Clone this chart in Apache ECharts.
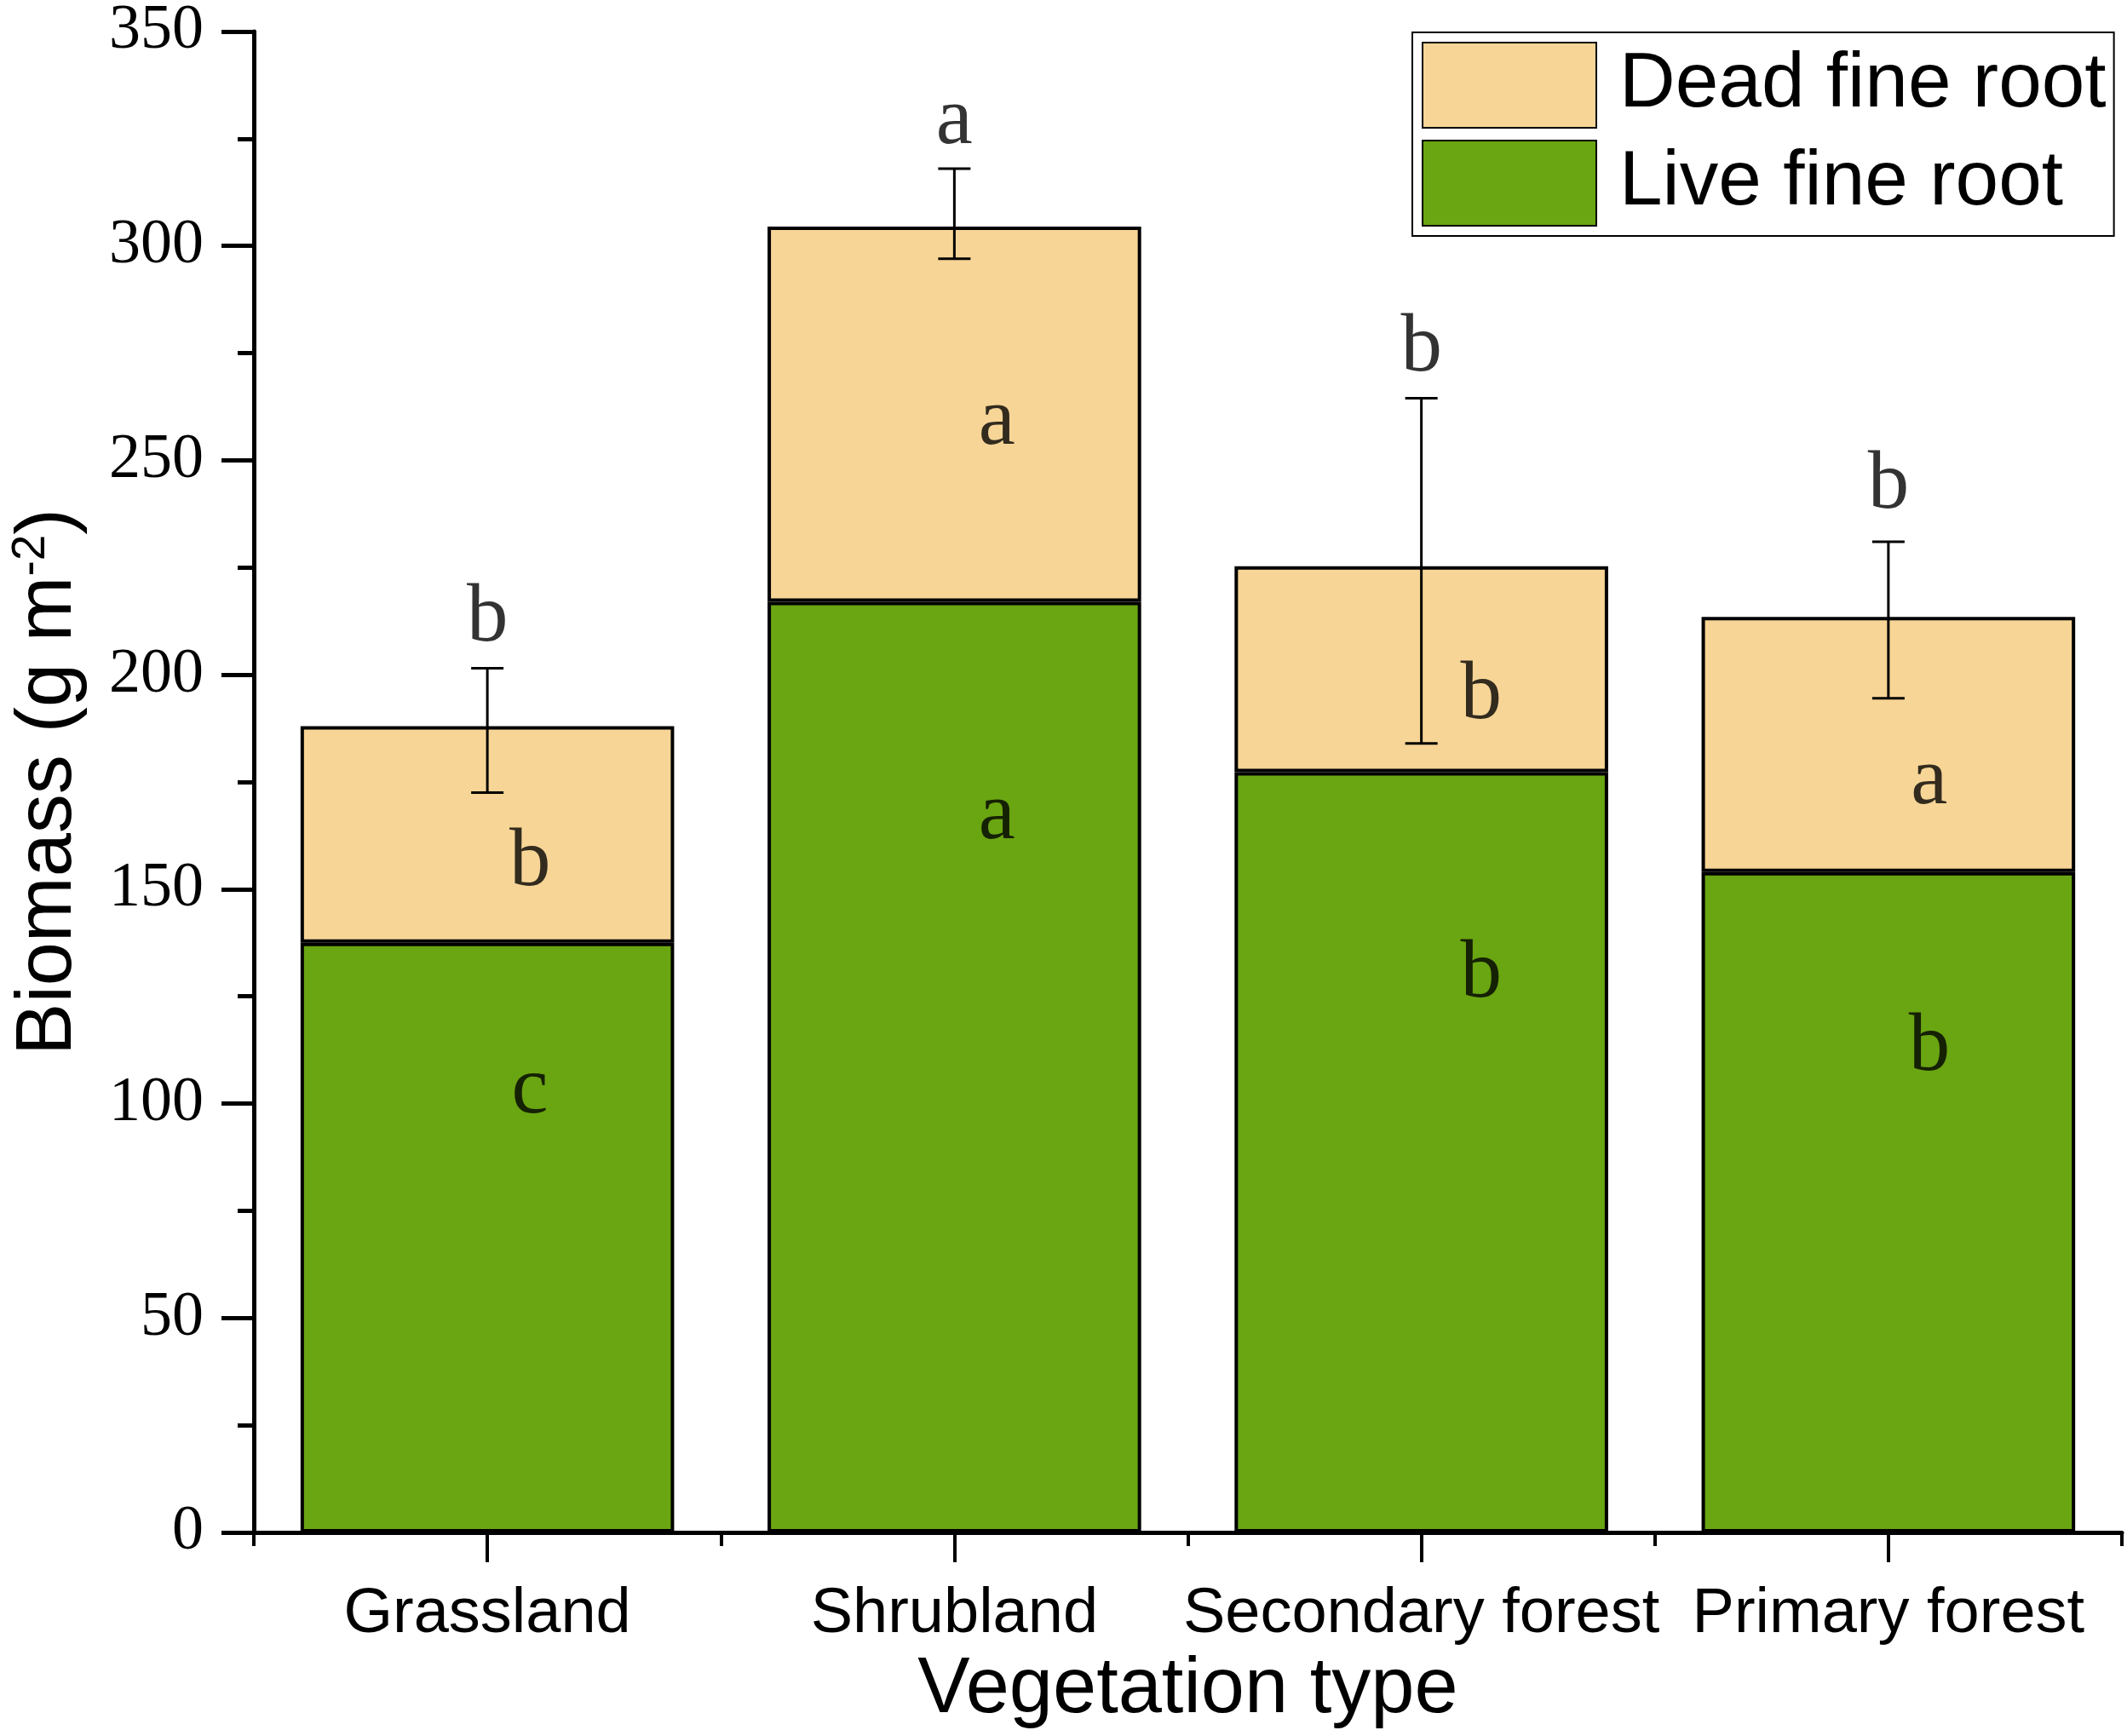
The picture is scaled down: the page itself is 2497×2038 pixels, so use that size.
<!DOCTYPE html>
<html>
<head>
<meta charset="utf-8">
<script src="https://cdn.jsdelivr.net/npm/echarts@6/dist/echarts.min.js"></script>
<style>
  html, body { margin: 0; padding: 0; background: #fff; }
  #main { width: 2497px; height: 2038px; }
</style>
</head>
<body>
<div id="main"></div>
<script>
// categories and values
var categories = ['Grassland', 'Shrubland', 'Secondary forest', 'Primary forest'];
var liveRoot = [137.5, 217, 177.3, 154];
var deadRoot = [50.5, 87.5, 48, 59.5];
var errLow = [172.5, 297, 184, 194.5];
var errHigh = [201.5, 318, 264.5, 231];
var topLetters = ['b', 'a', 'b', 'b'];
var deadLetters = ['b', 'a', 'b', 'a'];
var liveLetters = ['c', 'a', 'b', 'b'];
var topLetterY = [213, 329, 276, 244];
var deadLetterY = [156, 259, 195, 175];
var liveLetterY = [103, 167, 130, 113];
var yTicks = [0, 350, 50]; // min, max, interval

var SERIF = '"Liberation Serif", "Times New Roman", serif';
var SANS = '"Liberation Sans", Arial, sans-serif';

// horizontal nudge of the in-bar letters (px)
var letterNudge = [50, 50, 70, 48];

function letterSeries(ys, letters, nudge) {
    return {
        type: 'scatter',
        data: ys.map(function (y, i) {
            return { value: [i, y], name: letters[i], label: { offset: [nudge ? nudge[i] : 0, 0] } };
        }),
        symbolSize: 0,
        silent: true,
        z: 10,
        label: {
            show: true,
            position: 'inside',
            formatter: function (p) { return p.name; },
            fontFamily: SERIF,
            fontSize: 97,
            color: '#000'
        }
    };
}

var chart = echarts.init(document.getElementById('main'));
chart.setOption({
    backgroundColor: '#fff',
    animation: false,
    grid: { left: 298, right: 6, top: 29, bottom: 239, containLabel: false },
    legend: {
        left: 1658,
        top: 38,
        orient: 'vertical',
        data: ['Dead fine root', 'Live fine root'],
        itemWidth: 204,
        itemHeight: 100,
        itemGap: 13,
        padding: [11, 9, 11, 11],
        borderColor: '#000',
        borderWidth: 2,
        icon: 'rect',
        textStyle: { fontFamily: SANS, fontSize: 91, color: '#000', padding: [0, 0, 0, 22] }
    },
    xAxis: [{
        type: 'category',
        data: categories,
        axisLine: { lineStyle: { color: '#000', width: 5 } },
        axisTick: { show: true, alignWithLabel: true, interval: 0, length: 35, lineStyle: { width: 4, color: '#000' } },
        axisLabel: { interval: 0, fontFamily: SANS, fontSize: 74, color: '#000', margin: 60 },
        name: 'Vegetation type',
        nameLocation: 'middle',
        nameGap: 140,
        nameTextStyle: { fontFamily: SANS, fontSize: 92, color: '#000' }
    }, {
        type: 'category',
        data: categories,
        position: 'bottom',
        axisLine: { show: false },
        axisTick: { show: true, interval: 0, length: 16, lineStyle: { width: 4, color: '#000' } },
        axisLabel: { show: false }
    }],
    yAxis: {
        type: 'value',
        min: yTicks[0],
        max: yTicks[1],
        interval: yTicks[2],
        splitLine: { show: false },
        axisLine: { show: true, lineStyle: { color: '#000', width: 5 } },
        axisTick: { show: true, length: 38, lineStyle: { width: 5, color: '#000' } },
        minorTick: { show: true, splitNumber: 2, length: 19, lineStyle: { width: 5, color: '#000' } },
        axisLabel: { fontFamily: SERIF, fontSize: 74, color: '#000', margin: 59 },
        name: '{a|Biomass (g m}{s|-2}{a|)}',
        nameLocation: 'middle',
        nameGap: 190,
        nameTextStyle: {
            rich: {
                a: { fontFamily: SANS, fontSize: 92, color: '#000', lineHeight: 100 },
                s: { fontFamily: SANS, fontSize: 55, color: '#000', padding: [0, 0, 42, 0] }
            }
        }
    },
    series: [{
        name: 'Live fine root',
        type: 'bar',
        stack: 'biomass',
        barWidth: '80%',
        data: liveRoot,
        itemStyle: { color: '#6AA512', borderColor: '#000', borderWidth: 4 }
    }, {
        name: 'Dead fine root',
        type: 'bar',
        stack: 'biomass',
        barWidth: '80%',
        data: deadRoot,
        itemStyle: { color: '#F7D596', borderColor: '#000', borderWidth: 4 }
    }, {
        type: 'custom',
        name: 'error',
        z: 5,
        silent: true,
        data: categories.map(function (c, i) { return [i, errLow[i], errHigh[i]]; }),
        renderItem: function (params, api) {
            var lo = api.coord([api.value(0), api.value(1)]);
            var hi = api.coord([api.value(0), api.value(2)]);
            var cap = 19;
            var style = { stroke: '#000', lineWidth: 3 };
            return {
                type: 'group',
                children: [
                    { type: 'line', shape: { x1: hi[0], y1: hi[1], x2: lo[0], y2: lo[1] }, style: style },
                    { type: 'line', shape: { x1: hi[0] - cap, y1: hi[1], x2: hi[0] + cap, y2: hi[1] }, style: style },
                    { type: 'line', shape: { x1: lo[0] - cap, y1: lo[1], x2: lo[0] + cap, y2: lo[1] }, style: style }
                ]
            };
        }
    },
    letterSeries(topLetterY, topLetters, null),
    letterSeries(deadLetterY, deadLetters, letterNudge),
    letterSeries(liveLetterY, liveLetters, letterNudge)
    ]
});
</script>
</body>
</html>
